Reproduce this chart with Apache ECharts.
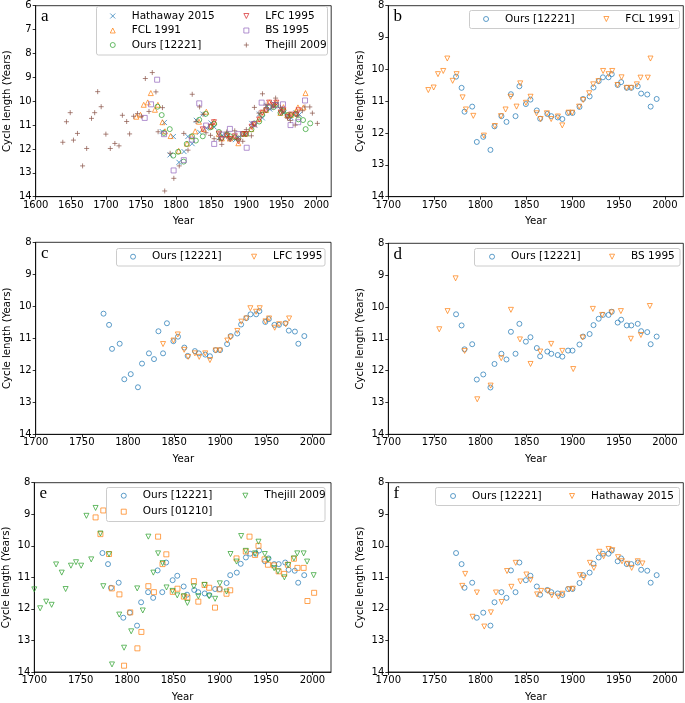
<!DOCTYPE html>
<html>
<head>
<meta charset="utf-8">
<script src="https://cdn.jsdelivr.net/npm/echarts@6/dist/echarts.min.js"></script>
<style>
html,body{margin:0;padding:0;background:#fff;}
#chart{width:685px;height:703px;}
</style>
</head>
<body>
<div id="chart"></div>
<script>
// ---------- data ----------
const oursYears = [1773.5,1779.5,1782.7,1791,1796,1803,1810.8,1815.2,1822.7,1828.2,1833,1838,1842.2,1849.2,1854.2,1861.1,1864.7,1872.5,1876.8,1883.8,1888.8,1895,1899.8,1907.4,1911.3,1918.4,1922.6,1928.2,1932.8,1938.9,1942.4,1948.8,1952.6,1958.7,1963.6,1970.6,1974.3,1980.9,1984.6,1991.1];
const oursVals = [10.23,10.58,11.33,11.17,12.28,12.12,12.53,11.79,11.47,11.65,10.78,11.47,10.53,11.09,10.95,11.29,11.55,11.4,11.47,11.51,11.56,11.37,11.37,11.18,10.93,10.85,10.57,10.37,10.25,10.25,10.15,10.49,10.4,10.58,10.58,10.53,10.76,10.79,11.17,10.93];

const fclYears = [1743.4,1749.2,1753.9,1759.6,1764,1769.8,1774.1,1780.6,1784.2,1792.2,1803.7,1815.6,1822.2,1827.2,1832.6,1839.1,1843.1,1849.3,1854.3,1860.8,1865.2,1872,1876.7,1884,1888.7,1895.5,1899.5,1907,1911.4,1917.9,1922.3,1928,1933,1939,1942.9,1948.6,1953,1958.4,1963.5,1969.6,1973.6,1981.5,1984.4];
const fclVals = [10.65,10.57,10.15,10.05,9.66,10.36,10.15,10.88,11.26,11.46,12.08,11.78,11.47,11.26,10.86,11.17,10.44,11.05,10.86,11.38,11.56,11.38,11.56,11.48,11.76,11.36,11.36,11.17,10.96,10.75,10.47,10.37,10.05,10.15,10.05,10.49,10.25,10.58,10.58,10.47,10.26,10.26,9.66];

const lfcYears = [1838,1849.3,1854,1860.9,1865.2,1872.5,1877.2,1883.7,1888.8,1895,1899.6,1907.6,1911.2,1918.5,1922.8,1928.3,1932.6,1938.8,1942.8,1949,1952.9,1959,1963.8,1971,1974.6];
const lfcVals = [11.18,11.07,10.88,11.36,11.58,11.47,11.58,11.47,11.68,11.38,11.38,11.07,10.97,10.77,10.48,10.38,10.06,10.17,10.06,10.47,10.38,10.67,10.56,10.56,10.38];

const bsYears = [1755.3,1764.3,1773,1782.8,1796.5,1811,1822.5,1833,1842.8,1854.3,1864.8,1876.7,1888.7,1900.6,1910.7,1921.9,1932,1942.1,1952.3,1963.1,1974,1983.7];
const bsVals = [10.7,10.13,9.1,11.38,12.9,12.47,11.61,10.09,11.02,11.79,11.4,11.16,11.38,11.95,10.96,10.06,10.25,10.17,10.13,11.0,10.88,9.97];

const hathYears = [1780.2,1783.4,1791.4,1796.1,1804.1,1811.3,1816.8,1822.9,1828.8,1833.5,1838.2,1843.3,1849.8,1854.2,1861.4,1865.8,1873,1877.4,1884.6,1889,1896.2,1900.2,1907.8,1912.2,1918.7,1923,1928.9,1933.6,1939,1943,1949.2,1953.5,1959.3,1964,1970.6,1975.7];
const hathVals = [11.27,10.89,12.25,11.48,12.56,12.11,11.48,11.78,10.8,11.3,10.54,11.13,10.91,11.08,11.54,11.43,11.43,11.57,11.61,11.52,11.38,11.36,10.93,11.01,10.54,10.7,10.19,10.33,10.1,10.14,10.36,10.49,10.57,10.7,10.49,10.56];

const thejillYears = [1638.6,1643.8,1649.2,1653.8,1659.5,1666.8,1672.6,1679.5,1684,1688.3,1693.3,1700,1706.3,1712.8,1718.7,1723.5,1729.6,1733.8,1739.5,1745,1750.5,1756.2,1761.4,1766.1,1771.3,1774.4,1780.6,1783.8,1791.6,1796.8,1804.5,1811,1817,1823,1828.4,1833.5,1838.4,1842.6,1849.1,1854.2,1861.3,1865.1,1872.1,1876.9,1883.6,1888.6,1895,1900.1,1907.3,1911.6,1918.1,1923.1,1928.1,1938.1,1941.8,1948.6,1952.2,1958.7,1962.8,1969.7,1973.8,1980,1983.6,1990.5,1994.2,2001.3];
const thejillVals = [11.72,10.86,10.48,11.63,11.35,12.71,11.98,10.72,10.48,9.6,10.23,11.38,11.98,11.77,11.87,10.59,10.85,11.37,10.63,10.52,10.63,9.05,10.43,8.8,9.61,11.28,10.27,13.76,12.18,13.23,12.71,11.35,12.05,9.71,10.85,10.24,10.55,11.32,11.43,11.57,11.6,11.81,11.29,11.6,11.24,11.6,11.68,11.19,11.45,10.26,10.5,9.69,10.16,10.24,9.87,10.26,10.44,10.71,10.81,11.0,10.61,10.4,10.24,10.24,10.5,10.93];

const ours01210Years = [1766.1,1771.3,1774.4,1780.6,1783.6,1791.8,1796.8,1803.5,1811.2,1815.5,1823,1829,1833.5,1838.3,1842.4,1849.3,1854.4,1861.3,1865.1,1872.1,1876.9,1883.6,1888.6,1894.9,1899.8,1907.3,1911.3,1918.1,1928.1,1932.1,1938.1,1941.8,1948.3,1952,1958.4,1963.5,1969.5,1973.5,1980,1983.8,1990.5,1994.6,2001.8];
const ours01210Vals = [9.1,9.63,8.88,10.26,11.35,11.54,13.8,12.11,13.25,12.73,11.28,11.47,9.71,10.58,10.27,11.46,11.36,11.61,11.64,11.12,11.77,11.24,11.33,11.96,11.38,11.52,11.41,10.4,10.18,9.71,10.29,10.0,10.43,10.6,10.62,10.81,10.89,10.6,10.41,10.7,10.7,11.75,11.49];

const xTicksA = [1600,1650,1700,1750,1800,1850,1900,1950,2000];
const xTicks = [1700,1750,1800,1850,1900,1950,2000];
const yTicksA = [6,7,8,9,10,11,12,13,14];
const yTicks = [8,9,10,11,12,13,14];
const panelLetters = ['a','b','c','d','e','f'];

// ---------- styling ----------
const C = {blue:'#1f77b4', orange:'#ff7f0e', green:'#2ca02c', red:'#d62728', purple:'#9467bd', brown:'#8c564b'};
const SYM = {
  circle: 'circle',
  tri_down: 'path://M0,0L10,0L5,10Z',
  tri_up: 'path://M5,0L10,10L0,10Z',
  square: 'path://M0,0L10,0L10,10L0,10Z',
  x: 'path://M0,0L10,10M0,10L10,0',
  plus: 'path://M5,0L5,10M0,5L10,5'
};
const S = 5;
const FONT = 'DejaVu Sans';

const grids = [
  {left:35.7, top:5.7, width:295.5, height:191},
  {left:388.3, top:5.7, width:295, height:191},
  {left:35.7, top:242.3, width:295.3, height:192},
  {left:388.3, top:243.3, width:295, height:191},
  {left:34.3, top:482.7, width:296.7, height:190.6},
  {left:388.3, top:482.7, width:295, height:190.6}
];

const zip = (xs, ys) => xs.map((x, i) => [x, ys[i]]);

function xAxisCfg(i, min, max, ticks) {
  return {
    gridIndex:i, type:'value', min:min, max:max, interval:50,
    name:'Year', nameLocation:'middle', nameGap:20,
    nameTextStyle:{color:'#000', fontSize:10.2, fontFamily:FONT},
    axisLine:{show:true, onZero:false, lineStyle:{color:'#000', width:0.8}},
    axisTick:{show:true, inside:false, length:3, customValues:ticks, lineStyle:{color:'#000', width:0.8}},
    axisLabel:{show:true, customValues:ticks, margin:3.5, color:'#000', fontSize:10, fontFamily:FONT,
               formatter: v => String(v)},
    splitLine:{show:false}
  };
}
function yAxisCfg(i, ticks) {
  return {
    gridIndex:i, type:'value', inverse:true, min:ticks[0], max:ticks[ticks.length-1], interval:1,
    name:'Cycle length (Years)', nameLocation:'middle', nameGap:23,
    nameTextStyle:{color:'#000', fontSize:10.2, fontFamily:FONT},
    axisLine:{show:true, onZero:false, lineStyle:{color:'#000', width:0.8}},
    axisTick:{show:true, inside:false, length:3, lineStyle:{color:'#000', width:0.8}},
    axisLabel:{show:true, margin:4, color:'#000', fontSize:10, fontFamily:FONT,
               formatter: v => String(v)},
    splitLine:{show:false}
  };
}
const seriesColor = {};
function sc(panel, name, grid, xs, ys, sym, color) {
  seriesColor[panel + ':' + name] = color;
  return {
    type:'scatter', name: panel + ':' + name, xAxisIndex:grid, yAxisIndex:grid,
    data: zip(xs, ys), symbol: SYM[sym], symbolSize: S, symbolKeepAspect: true,
    itemStyle:{color:'none', borderColor:color, borderWidth:0.9},
    emphasis:{disabled:true}, clip:true, animation:false
  };
}
function legendCol(names, cx, cy, gap) {
  return {
    orient:'vertical', left: cx - S/2 - 0.45, top: cy - 6,
    itemWidth:28, itemHeight:S, itemGap:gap, padding:0,
    data:names.map(n => ({name:n, itemStyle:{color:'none', borderColor:seriesColor[n], borderWidth:0.9}})),
    formatter: n => n.slice(2), selectedMode:false,
    symbolKeepAspect:true, itemStyle:{borderWidth:0.9},
    textStyle:{fontSize:10.5, fontFamily:FONT, color:'#000', lineHeight:12}
  };
}

const series = [
  sc('a','Hathaway 2015',0,hathYears,hathVals,'x',C.blue),
  sc('a','FCL 1991',0,fclYears,fclVals,'tri_up',C.orange),
  sc('a','Ours [12221]',0,oursYears,oursVals,'circle',C.green),
  sc('a','LFC 1995',0,lfcYears,lfcVals,'tri_down',C.red),
  sc('a','BS 1995',0,bsYears,bsVals,'square',C.purple),
  sc('a','Thejill 2009',0,thejillYears,thejillVals,'plus',C.brown),

  sc('b','Ours [12221]',1,oursYears,oursVals,'circle',C.blue),
  sc('b','FCL 1991',1,fclYears,fclVals,'tri_down',C.orange),

  sc('c','Ours [12221]',2,oursYears,oursVals,'circle',C.blue),
  sc('c','LFC 1995',2,lfcYears,lfcVals,'tri_down',C.orange),

  sc('d','Ours [12221]',3,oursYears,oursVals,'circle',C.blue),
  sc('d','BS 1995',3,bsYears,bsVals,'tri_down',C.orange),

  sc('e','Ours [12221]',4,oursYears,oursVals,'circle',C.blue),
  sc('e','Ours [01210]',4,ours01210Years,ours01210Vals,'square',C.orange),
  sc('e','Thejill 2009',4,thejillYears,thejillVals,'tri_down',C.green),

  sc('f','Ours [12221]',5,oursYears,oursVals,'circle',C.blue),
  sc('f','Hathaway 2015',5,hathYears,hathVals,'tri_down',C.orange)
];

const legends = [
  legendCol(['a:Hathaway 2015','a:FCL 1991','a:Ours [12221]'], 110.7, 16, 2.5),
  legendCol(['a:LFC 1995','a:BS 1995','a:Thejill 2009'], 244.3, 16, 2.5),
  legendCol(['b:Ours [12221]'], 484, 19, 2),
  legendCol(['b:FCL 1991'], 604.3, 19, 2),
  legendCol(['c:Ours [12221]'], 131, 256.7, 2),
  legendCol(['c:LFC 1995'], 252, 256.7, 2),
  legendCol(['d:Ours [12221]'], 490, 256.7, 2),
  legendCol(['d:BS 1995'], 610, 256.7, 2),
  legendCol(['e:Ours [12221]','e:Ours [01210]'], 121.7, 495.7, 4),
  legendCol(['e:Thejill 2009'], 243.3, 495.7, 4),
  legendCol(['f:Ours [12221]'], 451, 496, 2),
  legendCol(['f:Hathaway 2015'], 570, 496, 2)
];

const frames = [
  [96.5, 6.5, 231, 48.5],
  [469.5, 10.5, 210, 18],
  [116.5, 248.5, 208.5, 17.5],
  [474.5, 248.5, 205.5, 17.5],
  [106.5, 487.5, 218.5, 34],
  [435.5, 487.5, 244, 18]
];

const graphicEls = frames.map(f => ({
  type:'rect', z:3, silent:true,
  shape:{x:f[0], y:f[1], width:f[2], height:f[3], r:2},
  style:{fill:'rgba(255,255,255,0.8)', stroke:'#cccccc', lineWidth:1}
})).concat(grids.map((g, i) => ({
  type:'text', z:5, silent:true,
  x: g.left + 5.3, y: g.top + 11,
  style:{text: panelLetters[i], font:'17px "Liberation Serif"', fill:'#000', verticalAlign:'middle', align:'left'}
})));

const option = {
  animation:false,
  backgroundColor:'#fff',
  grid: grids.map(g => Object.assign({show:true, borderColor:'#000', borderWidth:0.8, backgroundColor:'transparent', containLabel:false}, g)),
  xAxis: [
    xAxisCfg(0, 1600, 2021, xTicksA),
    xAxisCfg(1, 1700, 2020, xTicks),
    xAxisCfg(2, 1700, 2020, xTicks),
    xAxisCfg(3, 1700, 2020, xTicks),
    xAxisCfg(4, 1700, 2020, xTicks),
    xAxisCfg(5, 1700, 2020, xTicks)
  ],
  yAxis: [
    yAxisCfg(0, yTicksA), yAxisCfg(1, yTicks), yAxisCfg(2, yTicks),
    yAxisCfg(3, yTicks), yAxisCfg(4, yTicks), yAxisCfg(5, yTicks)
  ],
  legend: legends,
  series: series,
  graphic: {elements: graphicEls}
};

const chart = echarts.init(document.getElementById('chart'), null, {renderer:'canvas'});
chart.setOption(option);
</script>
</body>
</html>
